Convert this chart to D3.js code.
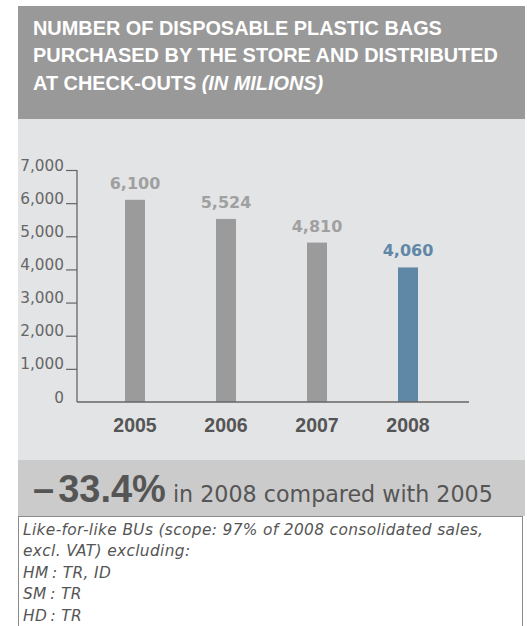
<!DOCTYPE html>
<html>
<head>
<meta charset="utf-8">
<script src="https://cdn.jsdelivr.net/npm/d3@7"></script>
<style>
  html, body { margin: 0; padding: 0; background: #ffffff; }
  svg { display: block; }
</style>
</head>
<body>
<svg id="chart" width="527" height="626"></svg>
<script>
// Disposable plastic bags purchased and handed out at check-outs (millions)
const years = ["2005", "2006", "2007", "2008"];
const bags = [6100, 5524, 4810, 4060];
const valueLabels = ["6,100", "5,524", "4,810", "4,060"];
const yTicks = [0, 1000, 2000, 3000, 4000, 5000, 6000, 7000];
const titleLines = [
  ["NUMBER OF DISPOSABLE PLASTIC BAGS", ""],
  ["PURCHASED BY THE STORE AND DISTRIBUTED", ""],
  ["AT CHECK-OUTS ", "(IN MILIONS)"]
];
const changeSign = "–";
const changeValue = "33.4%";
const changeText = "in 2008 compared with 2005";
const notes = [
  "Like-for-like BUs (scope: 97% of 2008 consolidated sales,",
  "excl. VAT) excluding:",
  "HM\u2009: TR, ID",
  "SM\u2009: TR",
  "HD\u2009: TR"
];

const svg = d3.select("#chart");
const BOLD = "'Liberation Sans', Arial, sans-serif";
const REG = "'DejaVu Sans', sans-serif";
const GREY = "#9b9b9b";
const BLUE = "#5f87a6";
const DARK = "#555555";

// panels
svg.append("rect").attr("x", 18).attr("y", 6).attr("width", 507).attr("height", 113).attr("fill", "#999999");
svg.append("rect").attr("x", 18).attr("y", 119).attr("width", 507).attr("height", 341).attr("fill", "#e3e4e6");
svg.append("rect").attr("x", 18).attr("y", 460).attr("width", 507).attr("height", 56).attr("fill", "#cbcbcb");
svg.append("rect").attr("x", 18.5).attr("y", 516.5).attr("width", 504).attr("height", 120)
  .attr("fill", "#ffffff").attr("stroke", "#8a8a8a").attr("stroke-width", 1);

// title
const title = svg.append("text").attr("font-family", BOLD).attr("font-weight", "bold")
  .attr("font-size", 19.9).attr("fill", "#ffffff");
titleLines.forEach((ln, i) => {
  title.append("tspan").attr("x", 33).attr("y", 35 + i * 27.3).text(ln[0]);
  if (ln[1]) title.append("tspan").attr("font-style", "italic").text(ln[1]);
});

// scales
const x = d3.scaleBand().domain(years).range([89.5, 453.5]).paddingInner(0).paddingOuter(0);
const y = d3.scaleLinear().domain([0, 7000]).range([402, 170]);
const barW = 20;

// y axis
const yAxis = d3.axisLeft(y).tickValues(yTicks).tickSize(11).tickPadding(2)
  .tickFormat(d3.format(","));
const gy = svg.append("g").attr("transform", "translate(77,0)").call(yAxis);
gy.select(".domain").attr("stroke", "#666").attr("stroke-width", 1.3).attr("d", `M0,${y(7000)}V${y(0)}`);
gy.selectAll(".tick line").attr("stroke", "#666").attr("stroke-width", 1.2)
  .filter(d => d === 0).remove();
gy.selectAll(".tick text").attr("font-family", REG).attr("font-size", 15.3)
  .attr("fill", "#666666").attr("dy", 0);

// bars
svg.append("g").selectAll("rect").data(years).join("rect")
  .attr("x", d => x(d) + x.bandwidth() / 2 - barW / 2)
  .attr("width", barW)
  .attr("y", (d, i) => y(bags[i]))
  .attr("height", (d, i) => y(0) - y(bags[i]))
  .attr("fill", (d, i) => i === years.length - 1 ? BLUE : GREY);

// baseline
svg.append("line").attr("x1", 77).attr("x2", 469).attr("y1", y(0)).attr("y2", y(0))
  .attr("stroke", "#666").attr("stroke-width", 1.5);

// value labels
svg.append("g").selectAll("text").data(years).join("text")
  .attr("x", d => x(d) + x.bandwidth() / 2)
  .attr("y", (d, i) => y(bags[i]) - 11)
  .attr("text-anchor", "middle")
  .attr("font-family", REG).attr("font-weight", "bold").attr("font-size", 16)
  .attr("fill", (d, i) => i === years.length - 1 ? BLUE : "#a0a0a0")
  .text((d, i) => valueLabels[i]);

// x axis labels
const xAxis = d3.axisBottom(x).tickSize(0).tickPadding(0);
const gx = svg.append("g").attr("transform", "translate(0,431.7)").call(xAxis);
gx.select(".domain").remove();
gx.selectAll(".tick text").attr("font-family", BOLD).attr("font-weight", "bold")
  .attr("font-size", 19.5).attr("fill", DARK).attr("dy", 0);

// change band
const band = svg.append("text").attr("x", 33).attr("y", 502).attr("fill", DARK);
band.append("tspan").attr("font-family", BOLD).attr("font-weight", "bold").attr("font-size", 38).text(changeSign);
band.append("tspan").attr("font-family", BOLD).attr("font-weight", "bold").attr("font-size", 38).attr("dx", 4).text(changeValue);
band.append("tspan").attr("font-family", REG).attr("font-size", 22.2).text(" " + changeText);

// notes
svg.append("g").selectAll("text").data(notes).join("text")
  .attr("x", 23).attr("y", (d, i) => 534.5 + i * 21.5)
  .attr("font-family", REG).attr("font-style", "italic").attr("font-size", 15.4)
  .attr("letter-spacing", 0.35)
  .attr("fill", DARK).text(d => d);
</script>
</body>
</html>
